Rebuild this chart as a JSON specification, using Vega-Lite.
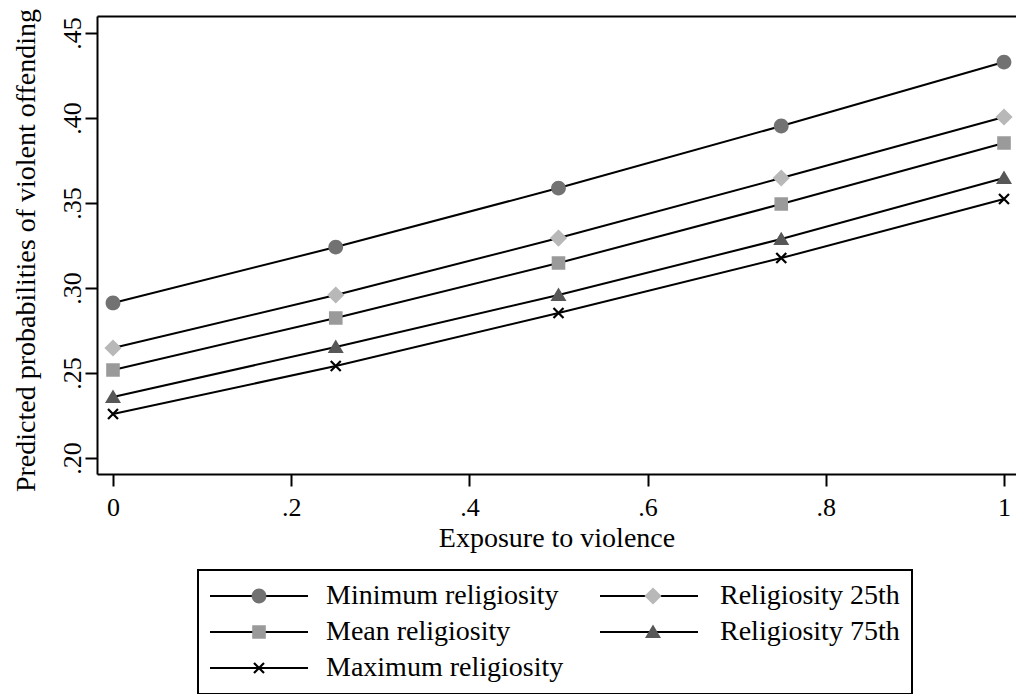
{
  "$schema": "https://vega.github.io/schema/vega-lite/v6.json",
  "width": 919,
  "height": 458,
  "autosize": {"type": "none"},
  "padding": {"left": 97, "top": 16, "right": 0, "bottom": 220},
  "background": "white",
  "config": {
    "font": "Liberation Serif",
    "view": {"stroke": null},
    "axis": {
      "domainColor": "black", "domainWidth": 2,
      "tickColor": "black", "tickWidth": 2, "tickSize": 12,
      "labelColor": "black", "titleColor": "black",
      "labelFont": "Liberation Serif", "titleFont": "Liberation Serif",
      "labelFontSize": 26, "titleFontSize": 28, "titleFontWeight": "normal",
      "grid": false
    },
    "legend": {"strokeWidth": 2}
  },
  "data": {
    "values": [
      {"exposure": 0, "series": "Minimum religiosity", "probability": 0.2912},
      {"exposure": 0.25, "series": "Minimum religiosity", "probability": 0.3241},
      {"exposure": 0.5, "series": "Minimum religiosity", "probability": 0.3588},
      {"exposure": 0.75, "series": "Minimum religiosity", "probability": 0.3953},
      {"exposure": 1, "series": "Minimum religiosity", "probability": 0.4329},
      {"exposure": 0, "series": "Religiosity 25th", "probability": 0.2647},
      {"exposure": 0.25, "series": "Religiosity 25th", "probability": 0.2959},
      {"exposure": 0.5, "series": "Religiosity 25th", "probability": 0.3294},
      {"exposure": 0.75, "series": "Religiosity 25th", "probability": 0.3647},
      {"exposure": 1, "series": "Religiosity 25th", "probability": 0.4006},
      {"exposure": 0, "series": "Mean religiosity", "probability": 0.2518},
      {"exposure": 0.25, "series": "Mean religiosity", "probability": 0.2824},
      {"exposure": 0.5, "series": "Mean religiosity", "probability": 0.3147},
      {"exposure": 0.75, "series": "Mean religiosity", "probability": 0.3494},
      {"exposure": 1, "series": "Mean religiosity", "probability": 0.3853},
      {"exposure": 0, "series": "Religiosity 75th", "probability": 0.2359},
      {"exposure": 0.25, "series": "Religiosity 75th", "probability": 0.2653},
      {"exposure": 0.5, "series": "Religiosity 75th", "probability": 0.2959},
      {"exposure": 0.75, "series": "Religiosity 75th", "probability": 0.3288},
      {"exposure": 1, "series": "Religiosity 75th", "probability": 0.3647},
      {"exposure": 0, "series": "Maximum religiosity", "probability": 0.2259},
      {"exposure": 0.25, "series": "Maximum religiosity", "probability": 0.2541},
      {"exposure": 0.5, "series": "Maximum religiosity", "probability": 0.2853},
      {"exposure": 0.75, "series": "Maximum religiosity", "probability": 0.3176},
      {"exposure": 1, "series": "Maximum religiosity", "probability": 0.3524}
    ]
  },
  "resolve": {"axis": {"x": "independent"}},
  "layer": [
    {
      "mark": {"type": "line", "strokeWidth": 2},
      "encoding": {
        "x": {
          "field": "exposure", "type": "quantitative",
          "scale": {"domain": [-0.017957, 1.013468], "nice": false, "zero": false},
          "axis": {
            "values": [0, 0.2, 0.4, 0.6, 0.8, 1],
            "labelExpr": "datum.value == 0 ? '0' : datum.value == 1 ? '1' : substring(format(datum.value, '.1f'), 1)",
            "labelPadding": 8, "titlePadding": 4, "title": "Exposure to violence"
          }
        },
        "y": {
          "field": "probability", "type": "quantitative",
          "scale": {"domain": [0.1906, 0.46], "nice": false, "zero": false},
          "axis": {
            "values": [0.2, 0.25, 0.3, 0.35, 0.4, 0.45],
            "labelExpr": "substring(format(datum.value, '.2f'), 1)",
            "labelAngle": 270, "labelAlign": "center", "labelBaseline": "alphabetic",
            "labelPadding": 5, "titlePadding": 19, "titleY": 234,
            "title": "Predicted probabilities of violent offending"
          }
        },
        "color": {
          "field": "series", "type": "nominal",
          "sort": ["Minimum religiosity", "Religiosity 25th", "Mean religiosity", "Religiosity 75th", "Maximum religiosity"],
          "scale": {"range": ["black", "black", "black", "black", "black"]},
          "legend": {
            "orient": "none", "legendX": 101, "legendY": 554, "title": null,
            "direction": "horizontal",
            "columns": 2, "columnPadding": 270, "rowPadding": 8, "padding": 12,
            "symbolType": "M-4.9,0L4.9,0", "symbolSize": 400, "symbolOffset": 35,
            "symbolStrokeWidth": 2, "symbolStrokeColor": "black",
            "labelExpr": "' '",
            "labelOffset": 53, "labelFontSize": 28, "labelLimit": 500,
            "labelFont": "Liberation Serif", "zindex": 0
          }
        }
      }
    },
    {
      "mark": {"type": "point", "filled": true, "size": 400, "opacity": 1, "strokeWidth": 0},
      "encoding": {
        "x": {
          "field": "exposure", "type": "quantitative",
          "axis": {"orient": "top", "labels": false, "ticks": false, "title": null, "domain": true}
        },
        "y": {"field": "probability", "type": "quantitative"},
        "shape": {
          "field": "series", "type": "nominal",
          "scale": {
            "domain": ["Minimum religiosity", "Religiosity 25th", "Mean religiosity", "Religiosity 75th", "Maximum religiosity"],
            "range": [
              "M-4.9,0L4.9,0M0.74,0A0.74,0.74,0,1,1,-0.74,0A0.74,0.74,0,1,1,0.74,0Z",
              "M-4.9,0L4.9,0M0,-0.86L0.86,0L0,0.86L-0.86,0Z",
              "M-4.9,0L4.9,0M-0.68,-0.68L0.68,-0.68L0.68,0.68L-0.68,0.68Z",
              "M-4.9,0L4.9,0M0,-0.74L0.8,0.6L-0.8,0.6Z",
              "M-4.9,0L4.9,0M-0.422,-0.578L0.578,0.422L0.422,0.578L-0.578,-0.422ZM-0.578,0.422L0.422,-0.578L0.578,-0.422L-0.422,0.578Z"
            ]
          },
          "legend": {
            "orient": "none", "legendX": 101, "legendY": 554, "title": null,
            "direction": "horizontal",
            "columns": 2, "columnPadding": 40, "rowPadding": 8, "padding": 12,
            "symbolSize": 400, "symbolOffset": 35, "symbolStrokeWidth": 0,
            "labelOffset": 53, "labelFontSize": 28, "labelLimit": 500,
            "labelFont": "Liberation Serif", "labelColor": "black",
            "strokeColor": "black", "zindex": 1
          }
        },
        "fill": {
          "field": "series", "type": "nominal",
          "scale": {
            "domain": ["Minimum religiosity", "Religiosity 25th", "Mean religiosity", "Religiosity 75th", "Maximum religiosity"],
            "range": ["#727272", "#b8b8b8", "#9a9a9a", "#575757", "#000000"]
          },
          "legend": {
            "orient": "none", "legendX": 101, "legendY": 554, "title": null,
            "direction": "horizontal",
            "columns": 2, "columnPadding": 40, "rowPadding": 8, "padding": 12,
            "symbolSize": 400, "symbolOffset": 35, "symbolStrokeWidth": 0,
            "labelOffset": 53, "labelFontSize": 28, "labelLimit": 500,
            "labelFont": "Liberation Serif", "labelColor": "black",
            "strokeColor": "black", "zindex": 1
          }
        }
      }
    }
  ]
}
